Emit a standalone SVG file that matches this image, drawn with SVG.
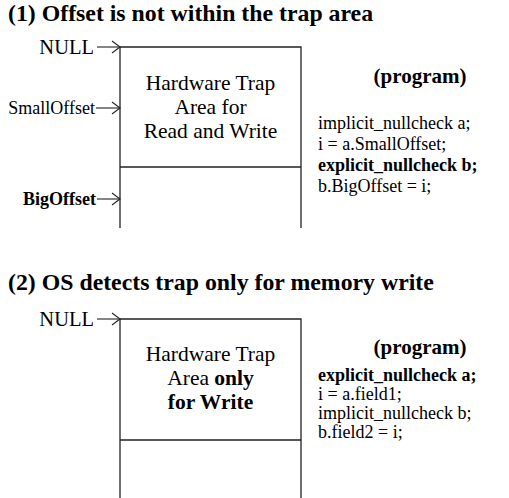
<svg xmlns="http://www.w3.org/2000/svg" width="509" height="498" viewBox="0 0 509 498">
<style>
text{font-family:"Liberation Serif","Times New Roman",serif;fill:#000}
.t{font-size:23.8px;font-weight:bold}
.b{font-weight:bold}
.lbl{font-size:18px}
.null{font-size:20.5px}
.box{font-size:21.5px}
.pg{font-size:18px}
.ph{font-size:21px;font-weight:bold}
.ln{stroke:#222;stroke-width:1.3;fill:none}
.ar{stroke:#222;stroke-width:1.1;fill:none}
</style>
<defs>
<marker id="ah" viewBox="0 0 10 14" refX="9" refY="7" markerWidth="10" markerHeight="14" markerUnits="userSpaceOnUse" orient="auto">
<path d="M1,1 L9,7 L1,13" fill="none" stroke="#222" stroke-width="1.1"/>
</marker>
</defs>
<text class="t" x="8" y="21">(1) Offset is not within the trap area</text>
<g id="box1">
<path class="ln" d="M120,228 V47 H301 V228 M120,167 H301"/>
<text class="box" text-anchor="middle" x="210.5" y="90">Hardware Trap</text>
<text class="box" text-anchor="middle" x="210.5" y="114">Area for</text>
<text class="box" text-anchor="middle" x="210.5" y="138">Read and Write</text>
</g>
<g id="labels1">
<text class="null" text-anchor="end" x="94" y="54">NULL</text>
<text class="lbl" text-anchor="end" x="95" y="114">SmallOffset</text>
<text class="lbl b" text-anchor="end" x="96" y="205">BigOffset</text>
</g>
<g id="program1">
<text class="ph" text-anchor="middle" x="420" y="83">(program)</text>
<text class="pg" x="318" y="129">implicit_nullcheck a;</text>
<text class="pg" x="318" y="150">i = a.SmallOffset;</text>
<text class="pg b" x="318" y="171">explicit_nullcheck b;</text>
<text class="pg" x="318" y="192">b.BigOffset = i;</text>
</g>
<text class="t" x="8" y="290">(2) OS detects trap only for memory write</text>
<g id="box2">
<path class="ln" d="M120,498 V319 H301 V498 M120,440 H301"/>
<text class="box" text-anchor="middle" x="210.5" y="361">Hardware Trap</text>
<text class="box" text-anchor="middle" x="210.5" y="385">Area <tspan class="b">only</tspan></text>
<text class="box b" text-anchor="middle" x="210.5" y="409">for Write</text>
</g>
<g id="labels2">
<text class="null" text-anchor="end" x="94" y="326">NULL</text>
</g>
<g id="program2">
<text class="ph" text-anchor="middle" x="420" y="354">(program)</text>
<text class="pg b" x="318" y="381">explicit_nullcheck a;</text>
<text class="pg" x="318" y="400">i = a.field1;</text>
<text class="pg" x="318" y="419">implicit_nullcheck b;</text>
<text class="pg" x="318" y="438">b.field2 = i;</text>
</g>
<g id="connectors">
<line class="ar" x1="97" y1="47" x2="120" y2="47" marker-end="url(#ah)"/>
<line class="ar" x1="96" y1="108" x2="120" y2="108" marker-end="url(#ah)"/>
<line class="ar" x1="97" y1="199" x2="120" y2="199" marker-end="url(#ah)"/>
<line class="ar" x1="97" y1="319" x2="120" y2="319" marker-end="url(#ah)"/>
</g>
</svg>
